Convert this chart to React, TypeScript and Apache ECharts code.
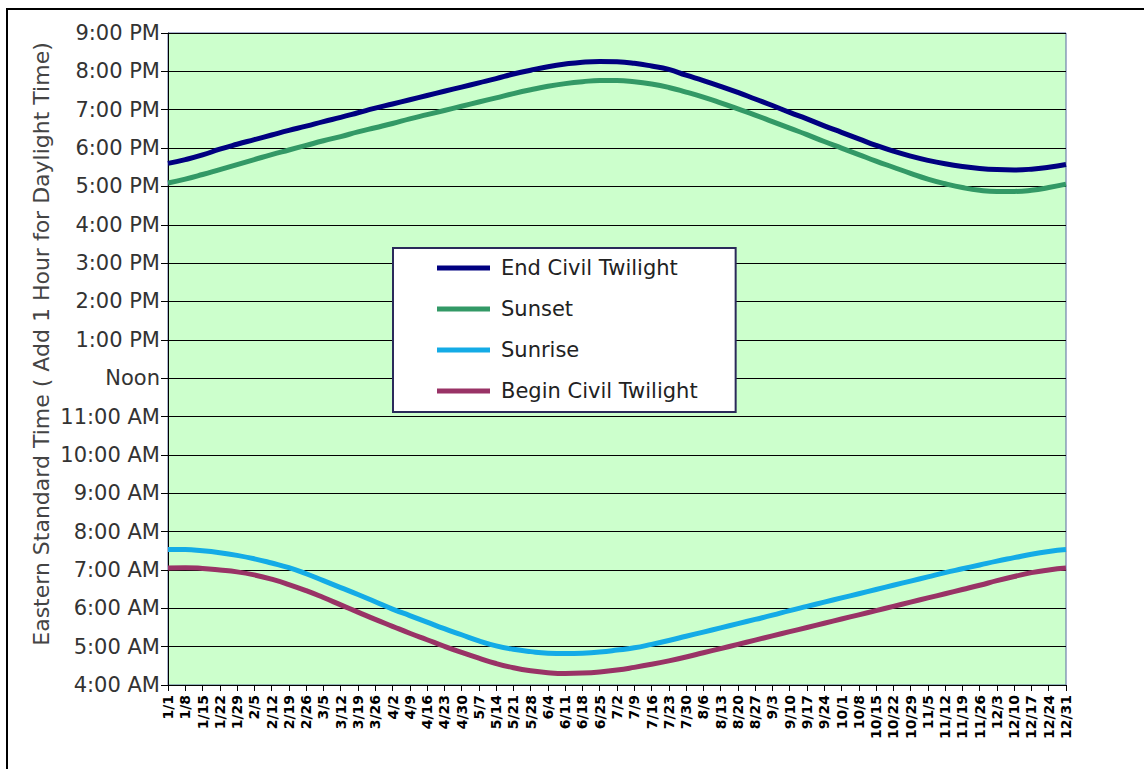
import React, { useEffect, useRef } from "react";
import * as echarts from "echarts";

// Weekly dates through the year
const dates = [
  "1/1", "1/8", "1/15", "1/22", "1/29", "2/5", "2/12", "2/19", "2/26", "3/5",
  "3/12", "3/19", "3/26", "4/2", "4/9", "4/16", "4/23", "4/30", "5/7", "5/14",
  "5/21", "5/28", "6/4", "6/11", "6/18", "6/25", "7/2", "7/9", "7/16", "7/23",
  "7/30", "8/6", "8/13", "8/20", "8/27", "9/3", "9/10", "9/17", "9/24", "10/1",
  "10/8", "10/15", "10/22", "10/29", "11/5", "11/12", "11/19", "11/26", "12/3", "12/10",
  "12/17", "12/24", "12/31",
];

// Times in decimal hours (Eastern Standard Time)
const endCivilTwilight = [
  17.60, 17.70, 17.82, 17.97, 18.10, 18.22, 18.34, 18.46, 18.57, 18.69,
  18.80, 18.92, 19.04, 19.15, 19.26, 19.37, 19.48, 19.59, 19.70, 19.81,
  19.93, 20.03, 20.12, 20.19, 20.24, 20.26, 20.25, 20.21, 20.14, 20.05,
  19.90, 19.76, 19.61, 19.45, 19.28, 19.11, 18.93, 18.76, 18.58, 18.41,
  18.24, 18.07, 17.92, 17.79, 17.68, 17.59, 17.52, 17.47, 17.44, 17.43,
  17.45, 17.50, 17.57,
];

const sunset = [
  17.09, 17.19, 17.31, 17.44, 17.57, 17.70, 17.83, 17.95, 18.07, 18.19,
  18.30, 18.42, 18.53, 18.64, 18.76, 18.87, 18.98, 19.09, 19.20, 19.31,
  19.42, 19.52, 19.61, 19.68, 19.73, 19.76, 19.76, 19.73, 19.67, 19.58,
  19.46, 19.33, 19.18, 19.02, 18.86, 18.69, 18.52, 18.35, 18.17, 18.00,
  17.83, 17.66, 17.50, 17.34, 17.19, 17.07, 16.97, 16.90, 16.87, 16.87,
  16.90, 16.97, 17.06,
];

const sunrise = [
  7.53, 7.53, 7.50, 7.45, 7.38, 7.29, 7.18, 7.06, 6.90, 6.72,
  6.54, 6.36, 6.17, 5.98, 5.81, 5.64, 5.47, 5.31, 5.15, 5.02,
  4.93, 4.87, 4.83, 4.82, 4.83, 4.86, 4.91, 4.97, 5.06, 5.16,
  5.27, 5.38, 5.49, 5.60, 5.71, 5.82, 5.94, 6.05, 6.16, 6.27,
  6.38, 6.49, 6.60, 6.71, 6.82, 6.93, 7.03, 7.13, 7.23, 7.32,
  7.41, 7.48, 7.53,
];

const beginCivilTwilight = [
  7.05, 7.06, 7.04, 7.00, 6.95, 6.87, 6.76, 6.62, 6.46, 6.28,
  6.09, 5.90, 5.71, 5.53, 5.35, 5.18, 5.01, 4.85, 4.70, 4.56,
  4.45, 4.37, 4.32, 4.30, 4.31, 4.34, 4.39, 4.46, 4.54, 4.63,
  4.73, 4.84, 4.95, 5.06, 5.17, 5.28, 5.39, 5.50, 5.61, 5.72,
  5.83, 5.94, 6.05, 6.16, 6.27, 6.38, 6.49, 6.60, 6.72, 6.83,
  6.93, 7.00, 7.05,
];

const yAxisTitle = "Eastern Standard Time ( Add 1 Hour for Daylight Time)";

const FONT = "'DejaVu Sans', Verdana, sans-serif";

function hourLabel(v: number): string {
  if (v === 12) return "Noon";
  const h = v % 12 === 0 ? 12 : v % 12;
  return `${h}:00 ${v < 12 ? "AM" : "PM"}`;
}

export default function App() {
  const ref = useRef<HTMLDivElement>(null);

  useEffect(() => {
    if (!ref.current) return;
    const chart = echarts.init(ref.current, undefined, { renderer: "svg" });

    const mkSeries = (name: string, data: number[], color: string) => ({
      name,
      type: "line",
      data,
      showSymbol: false,
      smooth: true,
      lineStyle: { color, width: 5 },
      itemStyle: { color },
    });

    chart.setOption({
      animation: false,
      backgroundColor: "#ffffff",
      grid: {
        left: 168,
        right: 78,
        top: 33,
        bottom: 84,
        show: true,
        backgroundColor: "#CCFFCC",
        borderColor: "#5868A0",
        borderWidth: 1,
      },
      legend: {
        orient: "vertical",
        left: 393,
        top: 248,
        icon: "rect",
        itemWidth: 53,
        itemHeight: 5,
        itemGap: 17,
        backgroundColor: "#ffffff",
        borderColor: "#2A2A5A",
        borderWidth: 2,
        borderRadius: 0,
        padding: [8, 38, 9, 44],
        textStyle: {
          fontFamily: FONT,
          fontSize: 21,
          color: "#222",
          lineHeight: 24,
          padding: [0, 0, 0, 6],
        },
        data: ["End Civil Twilight", "Sunset", "Sunrise", "Begin Civil Twilight"],
      },
      xAxis: {
        type: "category",
        data: dates,
        boundaryGap: false,
        axisLine: { lineStyle: { color: "#000", width: 1 } },
        axisTick: { show: true, interval: 0, length: 6, lineStyle: { color: "#000" } },
        axisLabel: {
          interval: 0,
          rotate: 90,
          margin: 10,
          fontFamily: FONT,
          fontSize: 14,
          fontWeight: "bold",
          color: "#000",
        },
        splitLine: { show: false },
      },
      yAxis: {
        type: "value",
        min: 4,
        max: 21,
        interval: 1,
        axisLine: { show: true, lineStyle: { color: "#000", width: 1 } },
        axisTick: { show: true, length: 7, lineStyle: { color: "#000" } },
        axisLabel: {
          margin: 8,
          fontFamily: FONT,
          fontSize: 21,
          color: "#333",
          formatter: (v: number) => hourLabel(v),
        },
        splitLine: { show: true, lineStyle: { color: "#000", width: 1 } },
      },
      graphic: [
        {
          type: "rect",
          silent: true,
          shape: { x: 7, y: 9, width: 1160, height: 800 },
          style: { fill: "none", stroke: "#000", lineWidth: 2 },
        },
        {
          type: "text",
          silent: true,
          x: 41,
          y: 344,
          rotation: Math.PI / 2,
          style: {
            text: yAxisTitle,
            font: `22px ${FONT}`,
            fill: "#444",
            align: "center",
            verticalAlign: "middle",
          },
        },
      ],
      series: [
        mkSeries("End Civil Twilight", endCivilTwilight, "#000080"),
        mkSeries("Sunset", sunset, "#339966"),
        mkSeries("Sunrise", sunrise, "#14ABE6"),
        mkSeries("Begin Civil Twilight", beginCivilTwilight, "#993366"),
      ],
    });

    return () => chart.dispose();
  }, []);

  return (
    <div
      ref={ref}
      style={{ position: "fixed", left: 0, top: 0, width: 1144, height: 769 }}
    />
  );
}
